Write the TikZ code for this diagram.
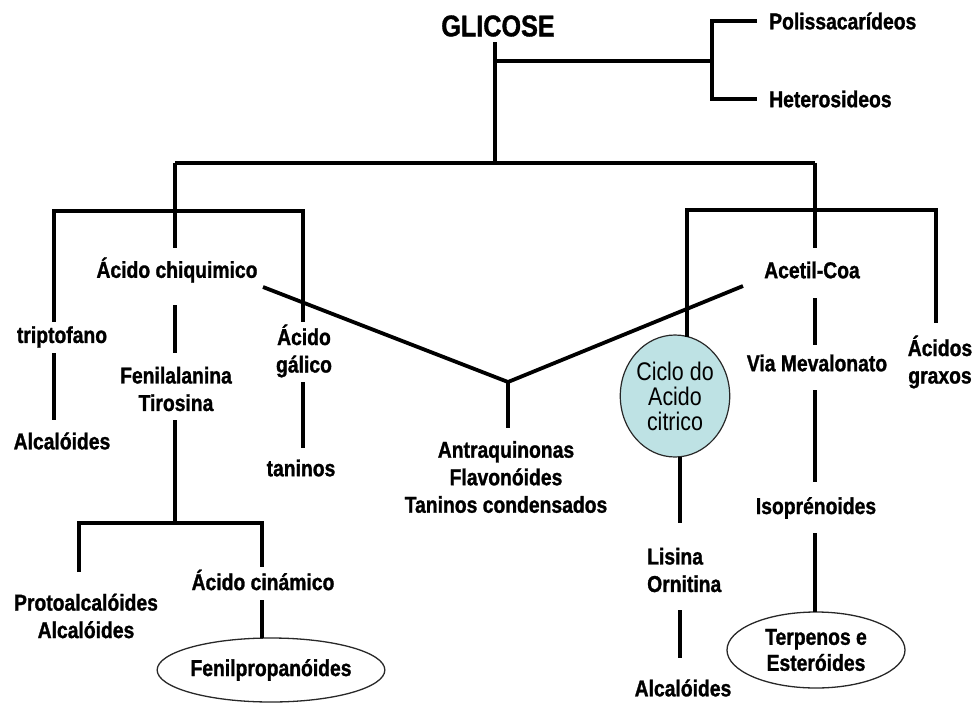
\documentclass[tikz,border=0pt]{standalone}
\usepackage{fontspec}
\setmainfont{Liberation Sans}[FakeStretch=0.84, BoldFeatures={FakeBold=1.2}]
\usetikzlibrary{shapes.geometric}
\definecolor{cyc}{RGB}{190,226,228}
\definecolor{edge}{RGB}{40,40,40}
\begin{document}
\begin{tikzpicture}[x=1pt,y=-1pt,
  txt/.style={font=\bfseries\fontsize{23}{27.5}\selectfont, align=center, inner sep=0pt},
  title/.style={font=\bfseries\fontsize{30}{30}\selectfont, inner sep=0pt},
  ln/.style={line width=3.8pt, line join=miter},
  ovalbox/.style={ellipse, draw=edge, line width=1.3pt, inner sep=0pt, align=center,
    font=\bfseries\fontsize{23}{26}\selectfont},
  cycbox/.style={ellipse, draw=edge, line width=1.2pt, fill=cyc, inner sep=0pt, align=center,
    font=\fontsize{25.5}{25}\selectfont, minimum width=104pt, minimum height=122pt}]
\useasboundingbox (0,0) rectangle (975,702);

% nodes
\node[title] (glc) at (498,26) {GLICOSE};
\node[txt, anchor=west] (poli) at (769,21) {Polissacarídeos};
\node[txt, anchor=west] (hetero) at (769,99) {Heterosideos};
\node[txt] (trip) at (62,337) {triptofano};
\node[txt] (alc1) at (62,441) {Alcalóides};
\node[txt] (chiq) at (177,270) {Ácido chiquimico};
\node[txt] (fen) at (176,389) {Fenilalanina\\Tirosina};
\node[txt] (gal) at (304,351) {Ácido\\gálico};
\node[txt] (tan) at (301,468) {taninos};
\node[txt] (antr) at (506,477) {Antraquinonas\\Flavonóides\\Taninos condensados};
\node[txt] (proto) at (86,616) {Protoalcalóides\\Alcalóides};
\node[txt] (cin) at (263,580) {Ácido cinámico};
\node[ovalbox, minimum width=226pt, minimum height=64pt] (fenp) at (271,670) {Fenilpropanóides};
\node[txt] (acet) at (812,270) {Acetil-Coa};
\node[cycbox] (ciclo) at (675,396) {Ciclo do\\Acido\\citrico};
\node[txt] (via) at (817,363) {Via Mevalonato};
\node[txt] (acgr) at (940,362) {Ácidos\\graxos};
\node[txt, align=left, anchor=west] (lis) at (647,570) {Lisina\\Ornitina};
\node[txt] (alc3) at (683,688) {Alcalóides};
\node[txt] (iso) at (816,508) {Isoprénoides};
\node[ovalbox, minimum width=178pt, minimum height=76pt] (terp) at (816,650) {Terpenos e\\Esteróides};

% junction and end coordinates
\coordinate (g0) at (495,42);
\coordinate (g1) at (495,61);
\coordinate (g2) at (495,163);
\coordinate (p0) at (712,61);
\coordinate (p1) at (712,21);
\coordinate (p2) at (712,99);
\coordinate (p1e) at (757,21);
\coordinate (p2e) at (757,99);
\coordinate (m0) at (175,163);
\coordinate (m1) at (815,163);
\coordinate (l0) at (175,211);
\coordinate (l1) at (54,211);
\coordinate (l2) at (303,211);
\coordinate (l1e) at (54,322);
\coordinate (l2e) at (303,322);
\coordinate (c0) at (175,248);
\coordinate (t1) at (54,353);
\coordinate (t2) at (54,420);
\coordinate (f1) at (175,305);
\coordinate (f2) at (175,353);
\coordinate (f3) at (175,420);
\coordinate (f4) at (175,523);
\coordinate (f5) at (79,523);
\coordinate (f6) at (262,523);
\coordinate (f5e) at (79,572);
\coordinate (f6e) at (262,567);
\coordinate (k1) at (262,600);
\coordinate (k2) at (262,638);
\coordinate (a1) at (303,382);
\coordinate (a2) at (303,448);
\coordinate (d0) at (263,287);
\coordinate (d1) at (743,286);
\coordinate (dj) at (508,382);
\coordinate (dv) at (508,428);
\coordinate (r0) at (815,210);
\coordinate (r1) at (687,210);
\coordinate (r2) at (936,210);
\coordinate (r1e) at (687,337);
\coordinate (r2e) at (936,323);
\coordinate (ac0) at (815,248);
\coordinate (v1) at (815,298);
\coordinate (v2) at (815,345);
\coordinate (v3) at (815,390);
\coordinate (v4) at (815,482);
\coordinate (v5) at (815,533);
\coordinate (v6) at (815,612);
\coordinate (o1) at (680,457);
\coordinate (o2) at (680,523);
\coordinate (o3) at (680,610);
\coordinate (o4) at (680,658);

% connectors
\draw[ln] (g0) -- (g2);
\draw[ln] (g1) -- (p0);
\draw[ln] (p1e) -- (p1) -- (p2) -- (p2e);
\draw[ln] (m0) -- (m1);
\draw[ln] (m0) -- (c0);
\draw[ln] (l1e) -- (l1) -- (l2) -- (l2e);
\draw[ln] (t1) -- (t2);
\draw[ln] (f1) -- (f2);
\draw[ln] (f3) -- (f4);
\draw[ln] (f5e) -- (f5) -- (f6) -- (f6e);
\draw[ln] (k1) -- (k2);
\draw[ln] (a1) -- (a2);
\draw[ln] (d0) -- (dj) -- (d1);
\draw[ln] (dj) -- (dv);
\draw[ln] (m1) -- (ac0);
\draw[ln] (r1e) -- (r1) -- (r2) -- (r2e);
\draw[ln] (v1) -- (v2);
\draw[ln] (v3) -- (v4);
\draw[ln] (v5) -- (v6);
\draw[ln] (o1) -- (o2);
\draw[ln] (o3) -- (o4);
\end{tikzpicture}
\end{document}
